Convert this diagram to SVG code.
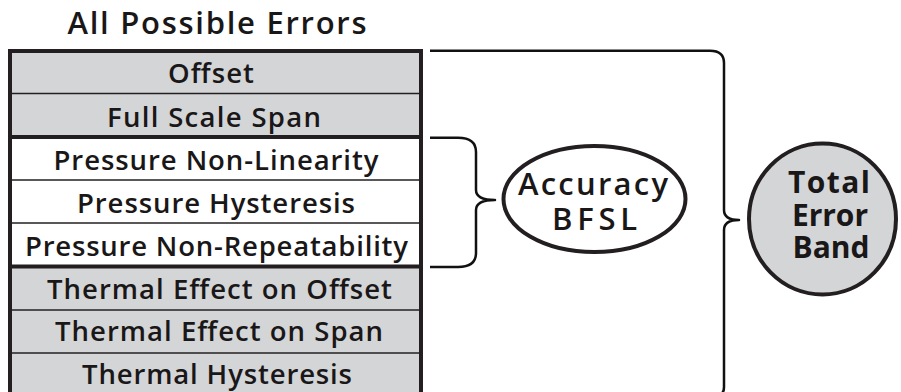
<svg xmlns="http://www.w3.org/2000/svg" width="901" height="392" viewBox="0 0 901 392">
<style>
.row{font-family:"Open Sans","Liberation Sans",sans-serif;font-weight:600;font-size:27.5px;fill:#1a1718;text-anchor:middle}
.title{font-family:"Open Sans","Liberation Sans",sans-serif;font-weight:600;font-size:31px;fill:#1a1718;text-anchor:middle}
.acc{font-family:"Open Sans","Liberation Sans",sans-serif;font-weight:600;font-size:31px;fill:#1a1718;text-anchor:middle}
.teb{font-family:"Open Sans","Liberation Sans",sans-serif;font-weight:700;font-size:30px;fill:#1a1718;text-anchor:middle}
.gray{fill:#d4d5d7}
.thin{stroke:#231f20;stroke-width:1.5;fill:none}
.thick{stroke:#231f20;stroke-width:4;fill:none}
.brace{stroke:#111;stroke-width:2.5;fill:none;stroke-linejoin:round}
</style>
<rect width="901" height="392" fill="#fff"/>
<text class="title" x="217" y="34" textLength="299" lengthAdjust="spacing">All Possible Errors</text>
<g id="errors">
<rect class="gray" x="10" y="51" width="411" height="86"/>
<rect x="10" y="137" width="411" height="129.5" fill="#fff"/>
<rect class="gray" x="10" y="266.5" width="411" height="135"/>
<line class="thin" x1="10" y1="93.5" x2="421" y2="93.5"/>
<line class="thin" x1="10" y1="180" x2="421" y2="180"/>
<line class="thin" x1="10" y1="223" x2="421" y2="223"/>
<line class="thin" x1="10" y1="310" x2="421" y2="310"/>
<line class="thin" x1="10" y1="353" x2="421" y2="353"/>
<line class="thick" x1="10" y1="137" x2="421" y2="137"/>
<line class="thick" x1="10" y1="266.5" x2="421" y2="266.5"/>
<rect class="thick" x="10" y="51" width="411" height="350"/>
<text class="row" x="211" y="83" textLength="86" lengthAdjust="spacing">Offset</text>
<text class="row" x="214" y="127" textLength="214" lengthAdjust="spacing">Full Scale Span</text>
<text class="row" x="216" y="170" textLength="325" lengthAdjust="spacing">Pressure Non-Linearity</text>
<text class="row" x="216" y="213" textLength="278" lengthAdjust="spacing">Pressure Hysteresis</text>
<text class="row" x="216.5" y="255.5" textLength="383" lengthAdjust="spacing">Pressure Non-Repeatability</text>
<text class="row" x="219.5" y="298.5" textLength="345" lengthAdjust="spacing">Thermal Effect on Offset</text>
<text class="row" x="219" y="341" textLength="328" lengthAdjust="spacing">Thermal Effect on Span</text>
<text class="row" x="217" y="384" textLength="270" lengthAdjust="spacing">Thermal Hysteresis</text>
</g>
<g id="connectors">
<path class="brace" d="M430,137.7 H458 Q476,137.7 476,152 V190 Q476,200 495,200 Q476,200 476,210 V253 Q476,267 458,267 H430"/>
<path class="brace" d="M430,50.7 H710 Q724,50.7 724,63 V210 Q724,220 739,220 Q724,220 724,230 V387 Q724,397 712,397 H430"/>
</g>
<g id="accuracy">
<ellipse cx="594.5" cy="199" rx="91" ry="53" fill="#fff" stroke="#231f20" stroke-width="4"/>
<text class="acc" x="593" y="195" textLength="150" lengthAdjust="spacing">Accuracy</text>
<text class="acc" x="594.5" y="230" textLength="85" lengthAdjust="spacing">BFSL</text>
</g>
<g id="total">
<ellipse cx="822.5" cy="219" rx="73.5" ry="75.5" fill="#d4d5d7" stroke="#231f20" stroke-width="4"/>
<text class="teb" x="829" y="193" textLength="82" lengthAdjust="spacing">Total</text>
<text class="teb" x="830" y="226" textLength="76" lengthAdjust="spacing">Error</text>
<text class="teb" x="831" y="258" textLength="77" lengthAdjust="spacing">Band</text>
</g>
</svg>
